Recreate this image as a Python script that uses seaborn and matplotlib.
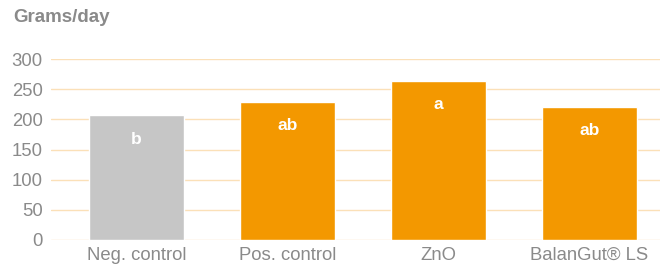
import matplotlib
matplotlib.use("Agg")
import matplotlib.pyplot as plt
import seaborn as sns
import pandas as pd

# daily feed intake per group
groups = ["Neg. control", "Pos. control", "ZnO", "BalanGut® LS"]
grams_day = [207, 229, 264, 221]
letters = ["b", "ab", "a", "ab"]
colors = ["#c6c6c6", "#f39800", "#f39800", "#f39800"]
yticks = [0, 50, 100, 150, 200, 250, 300]

df = pd.DataFrame({"group": groups, "grams": grams_day})

sns.set_style("white")
plt.rcParams["font.family"] = ["Liberation Sans", "DejaVu Sans"]

fig = plt.figure(figsize=(6.6, 2.65), dpi=100)
ax = fig.add_axes([51 / 660, 25 / 265, 609 / 660, 181 / 265])

sns.barplot(data=df, x="group", y="grams", hue="group", palette=colors,
            width=0.63, saturation=1, legend=False, ax=ax, zorder=3)

# letters inside the bars
for i, (v, t) in enumerate(zip(grams_day, letters)):
    ax.text(i, v - 40, t, ha="center", va="center", color="white",
            fontsize=12.5, fontweight="bold", zorder=4)

ax.set_ylim(0, 300)
ax.set_xlim(-0.566, 3.467)
ax.set_yticks(yticks)
ax.yaxis.grid(True, color="#fbe0b8", linewidth=1, zorder=0)
for s in ax.spines.values():
    s.set_visible(False)
ax.tick_params(axis="both", length=0, labelsize=13.3, labelcolor="#8a8a8a")
ax.tick_params(axis="y", pad=6)
ax.tick_params(axis="x", pad=5)
ax.set_xlabel("")
ax.set_ylabel("")

fig.text(13 / 660, 1 - 18 / 265, "Grams/day", ha="left", va="center",
         fontsize=13.5, fontweight="bold", color="#8a8a8a")

fig.savefig("out.png", dpi=100)
